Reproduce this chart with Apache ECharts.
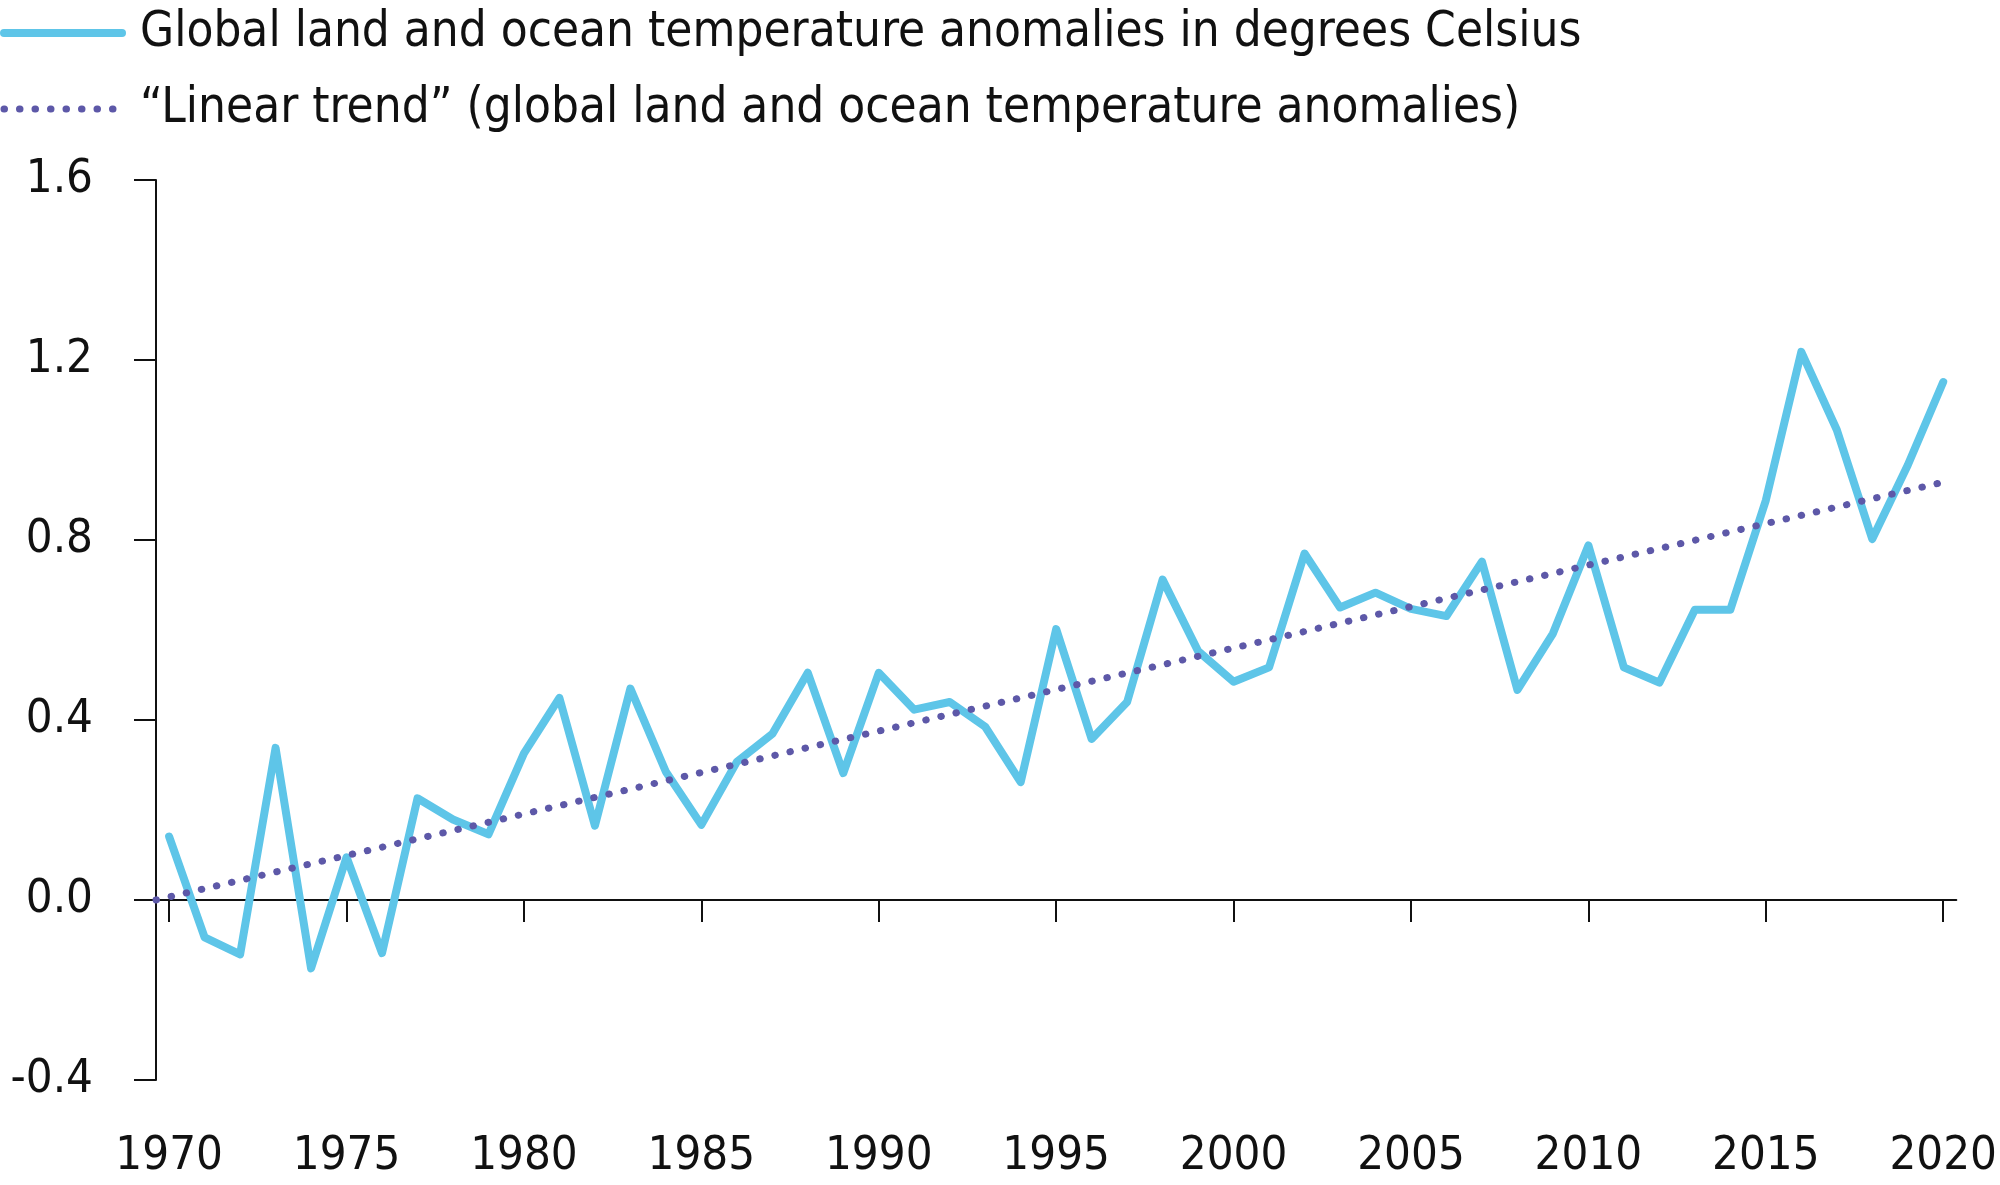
<!DOCTYPE html>
<html>
<head>
<meta charset="utf-8">
<script src="https://cdn.jsdelivr.net/npm/echarts@6/dist/echarts.min.js"></script>
<style>
  html, body { margin: 0; padding: 0; background: #fff; }
  #chart { width: 2000px; height: 1185px; }
</style>
</head>
<body>
<div id="chart"></div>
<script>
// anomalies, one per year
var years = [];
for (var y = 1970; y <= 2020; y++) years.push(y);
var anomalies = [
  0.141, -0.083, -0.121, 0.338, -0.152, 0.095, -0.118, 0.226, 0.179, 0.146,
  0.326, 0.449, 0.165, 0.470, 0.285, 0.167, 0.307, 0.369, 0.505, 0.282,
  0.505, 0.423, 0.440, 0.385, 0.262, 0.602, 0.358, 0.440, 0.712, 0.553,
  0.485, 0.517, 0.770, 0.650, 0.683, 0.647, 0.631, 0.752, 0.467, 0.592,
  0.788, 0.517, 0.483, 0.645, 0.645, 0.888, 1.218, 1.045, 0.802, 0.966,
  1.151
];
// trend line end points
var trendYears = [1969.63, 2020.08];
var trendValues = [0.0, 0.93];

var tickYears = [1970, 1975, 1980, 1985, 1990, 1995, 2000, 2005, 2010, 2015, 2020];
var seriesNames = [
  'Global land and ocean temperature anomalies in degrees Celsius',
  '\u201cLinear trend\u201d (global land and ocean temperature anomalies)'
];

var FONT = "'Liberation Sans Narrow', 'DejaVu Sans Condensed', 'Arial Narrow', sans-serif";
var INK = '#111111';
var BLUE = '#5ec5e8';
var PURPLE = '#5d58a8';

var chart = echarts.init(document.getElementById('chart'), null, { renderer: 'canvas' });

var xMin = 1969.63, xMax = 2020.37;

chart.setOption({
  animation: false,
  backgroundColor: '#ffffff',
  textStyle: { fontFamily: FONT },
  legend: {
    orient: 'vertical',
    left: 0,
    top: 5,
    padding: 0,
    itemGap: 20,
    itemWidth: 118,
    itemHeight: 20,
    selectedMode: false,
    itemStyle: { opacity: 0 },
    lineStyle: { width: 'inherit', type: 'inherit', cap: 'inherit' },
    textStyle: {
      fontFamily: FONT,
      fontSize: 49,
      lineHeight: 56,
      color: INK,
      padding: [0, 0, 0, 13]
    },
    data: seriesNames
  },
  grid: {
    left: 156,
    right: 42,
    top: 180,
    bottom: 105,
    containLabel: false
  },
  xAxis: [
    {
      // labels at the bottom, also the data axis
      type: 'value',
      position: 'bottom',
      min: xMin,
      max: xMax,
      axisLine: { show: false, onZero: false },
      axisTick: { show: false },
      splitLine: { show: false },
      axisLabel: {
        customValues: tickYears,
        margin: 53,
        fontFamily: FONT,
        fontSize: 47,
        color: INK,
        formatter: function (v) { return String(Math.round(v)); }
      }
    },
    {
      // axis line + ticks sitting on zero
      type: 'value',
      position: 'top',
      min: xMin,
      max: xMax,
      axisLine: { show: true, onZero: true, lineStyle: { color: INK, width: 2 } },
      axisTick: {
        show: true,
        inside: true,
        length: 22,
        customValues: tickYears,
        lineStyle: { color: INK, width: 2 }
      },
      axisLabel: { show: false },
      splitLine: { show: false }
    }
  ],
  yAxis: {
    type: 'value',
    min: -0.4,
    max: 1.6,
    interval: 0.4,
    axisLine: { show: true, onZero: false, lineStyle: { color: INK, width: 2 } },
    axisTick: { show: true, length: 22, lineStyle: { color: INK, width: 2 } },
    splitLine: { show: false },
    axisLabel: {
      margin: 63,
      fontFamily: FONT,
      fontSize: 47,
      color: INK,
      formatter: function (v) { return v.toFixed(1); }
    }
  },
  series: [
    {
      name: seriesNames[0],
      type: 'line',
      xAxisIndex: 0,
      symbol: 'none',
      lineStyle: { color: BLUE, width: 8, cap: 'round', join: 'round' },
      itemStyle: { color: BLUE },
      data: years.map(function (yr, i) { return [yr, anomalies[i]]; }),
      z: 2
    },
    {
      name: seriesNames[1],
      type: 'line',
      xAxisIndex: 0,
      symbol: 'none',
      lineStyle: { color: PURPLE, width: 7, type: [0.5, 15], cap: 'round' },
      itemStyle: { color: PURPLE },
      data: trendYears.map(function (yr, i) { return [yr, trendValues[i]]; }),
      z: 3
    }
  ]
});
</script>
</body>
</html>
